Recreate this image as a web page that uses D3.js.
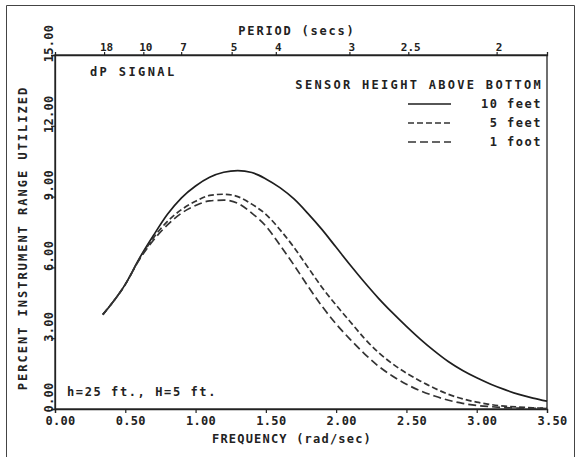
<!DOCTYPE html>
<html>
<head>
<meta charset="utf-8">
<script src="https://cdn.jsdelivr.net/npm/d3@7"></script>
<style>
  body { margin: 0; background: #fff; }
  text { font-family: "DejaVu Sans Mono", monospace; fill: #222; }
</style>
</head>
<body>
<div id="chart"></div>
<script>
// frequency (rad/sec) and percent of instrument range
var freq   = [0.34, 0.5, 0.6, 0.7, 0.8, 0.9, 1.0, 1.1, 1.2, 1.3, 1.4, 1.5, 1.6, 1.7, 1.8, 1.9, 2.0, 2.1, 2.2, 2.3, 2.4, 2.5, 2.6, 2.7, 2.8, 2.9, 3.0, 3.1, 3.2, 3.3, 3.4, 3.5];
var feet10 = [4.0, 5.28, 6.38, 7.35, 8.25, 8.95, 9.45, 9.82, 10.03, 10.1, 10.02, 9.75, 9.38, 8.9, 8.28, 7.6, 6.85, 6.1, 5.38, 4.7, 4.08, 3.5, 2.95, 2.45, 2.0, 1.63, 1.32, 1.05, 0.82, 0.62, 0.46, 0.33];
var feet5  = [4.0, 5.28, 6.35, 7.25, 7.95, 8.45, 8.8, 9.05, 9.1, 9.0, 8.68, 8.25, 7.6, 6.85, 6.0, 5.15, 4.4, 3.7, 3.0, 2.4, 1.92, 1.52, 1.18, 0.88, 0.62, 0.43, 0.29, 0.19, 0.12, 0.08, 0.05, 0.03];
var foot1  = [4.0, 5.28, 6.33, 7.15, 7.8, 8.3, 8.62, 8.82, 8.85, 8.72, 8.3, 7.75, 6.95, 6.1, 5.2, 4.35, 3.6, 2.95, 2.35, 1.82, 1.4, 1.05, 0.77, 0.55, 0.37, 0.24, 0.15, 0.1, 0.06, 0.04, 0.03, 0.02];

var freqTicks   = [0, 0.5, 1.0, 1.5, 2.0, 2.5, 3.0, 3.5];
var pctTicks    = [0, 3, 6, 9, 12, 15];
var periodTicks = [18, 10, 7, 5, 4, 3, 2.5, 2];
var periodLabels = ["18", "10", "7", "5", "4", "3", "2.5", "2"];
var seriesNames = ["10 feet", "5 feet", "1 foot"];

var margin = {top: 55, right: 29, bottom: 48, left: 55},
    W = 576, H = 457,
    width = W - margin.left - margin.right,
    height = H - margin.top - margin.bottom;

var svg = d3.select("#chart").append("svg")
    .attr("width", W)
    .attr("height", H);

// outer border of the scanned page
svg.append("path")
    .attr("d", "M6.5,457 V5.5 H574.5 V457")
    .attr("fill", "none")
    .attr("stroke", "#444")
    .attr("stroke-width", 1);

var g = svg.append("g")
    .attr("transform", "translate(" + margin.left + "," + margin.top + ")");

var x = d3.scaleLinear().domain([0, 3.5]).range([0, width]);
var y = d3.scaleLinear().domain([0, 15]).range([height, 0]);

// frame
g.append("rect")
    .attr("width", width)
    .attr("height", height)
    .attr("fill", "none")
    .attr("stroke", "#222")
    .attr("stroke-width", 1.3);

// bottom axis
var gx = g.append("g")
    .attr("transform", "translate(0," + height + ")")
    .call(d3.axisBottom(x).tickValues(freqTicks).tickFormat(d3.format(".2f")).tickSize(4).tickPadding(3));
gx.selectAll("text")
    .attr("dx", 5)
    .style("font-size", "12px")
    .style("font-weight", "bold")
    .style("letter-spacing", "0.3px");

// top axis (period in secs)
var gt = g.append("g")
    .call(d3.axisTop(x)
        .tickValues(periodTicks.map(function(p){ return 2 * Math.PI / p; }))
        .tickFormat(function(d, i){ return periodLabels[i]; })
        .tickSize(3).tickPadding(1));
gt.selectAll("text")
    .attr("dx", 2)
    .style("font-size", "11px")
    .style("font-weight", "bold");

// left axis, labels written sideways
var gy = g.append("g")
    .call(d3.axisLeft(y).tickValues(pctTicks).tickFormat(d3.format(".2f")).tickSize(4));
gy.selectAll("text")
    .attr("x", null).attr("dy", null)
    .attr("transform", "translate(-2,-12) rotate(-90)")
    .attr("text-anchor", "middle")
    .style("font-size", "12px")
    .style("font-weight", "bold")
    .style("letter-spacing", "0.3px");

[gx, gt, gy].forEach(function(a){
    a.select(".domain").attr("stroke", "#222").attr("stroke-width", 1.3);
    a.selectAll(".tick line").attr("stroke", "#222").attr("stroke-width", 1.2);
});

// curves
var line = d3.line()
    .x(function(d){ return x(d[0]); })
    .y(function(d){ return y(d[1]); })
    .curve(d3.curveMonotoneX);

var series = [feet10, feet5, foot1];
var dashes = [null, "6,3", "8,4"];
var colors = ["#1e1e1e", "#333", "#333"];

series.forEach(function(vals, i){
    g.append("path")
        .datum(freq.map(function(f, k){ return [f, vals[k]]; }))
        .attr("d", line)
        .attr("fill", "none")
        .attr("stroke", colors[i])
        .attr("stroke-width", 1.7)
        .attr("stroke-dasharray", dashes[i]);
});

// titles
svg.append("text")
    .attr("x", 297).attr("y", 35)
    .attr("text-anchor", "middle")
    .style("font-size", "12px").style("font-weight", "bold").style("letter-spacing", "1.8px")
    .text("PERIOD (secs)");

svg.append("text")
    .attr("x", 292).attr("y", 443)
    .attr("text-anchor", "middle")
    .style("font-size", "12px").style("font-weight", "bold").style("letter-spacing", "1.2px")
    .text("FREQUENCY (rad/sec)");

svg.append("text")
    .attr("transform", "translate(27,238) rotate(-90)")
    .attr("text-anchor", "middle")
    .style("font-size", "12px").style("font-weight", "bold").style("letter-spacing", "2px")
    .text("PERCENT INSTRUMENT RANGE UTILIZED");

svg.append("text")
    .attr("x", 90).attr("y", 76)
    .style("font-size", "12px").style("font-weight", "bold").style("letter-spacing", "2.4px")
    .text("dP SIGNAL");

svg.append("text")
    .attr("x", 67).attr("y", 396)
    .style("font-size", "12px").style("font-weight", "bold").style("letter-spacing", "1.6px")
    .text("h=25 ft., H=5 ft.");

// legend
svg.append("text")
    .attr("x", 543).attr("y", 89)
    .attr("text-anchor", "end")
    .style("font-size", "12px").style("font-weight", "bold").style("letter-spacing", "2.3px")
    .text("SENSOR HEIGHT ABOVE BOTTOM");

var leg = svg.append("g").selectAll("g")
    .data(seriesNames)
    .enter().append("g")
    .attr("transform", function(d, i){ return "translate(0," + (108 + i * 19) + ")"; });

leg.append("line")
    .attr("x1", 408).attr("x2", 451)
    .attr("y1", -4).attr("y2", -4)
    .attr("stroke", function(d, i){ return colors[i]; })
    .attr("stroke-width", 1.7)
    .attr("stroke-dasharray", function(d, i){ return dashes[i]; });

leg.append("text")
    .attr("x", 542)
    .attr("text-anchor", "end")
    .style("font-size", "12px").style("font-weight", "bold").style("letter-spacing", "1.5px")
    .text(function(d){ return d; });
</script>
</body>
</html>
